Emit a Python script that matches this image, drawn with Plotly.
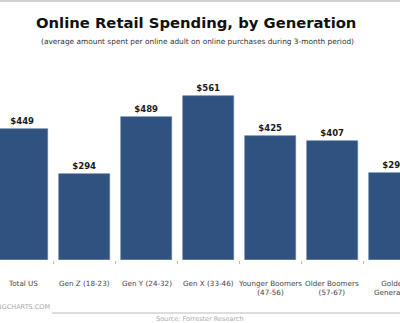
import plotly.graph_objects as go

# Spending data
categories = ["Total US", "Gen Z (18-23)", "Gen Y (24-32)", "Gen X (33-46)",
              "Younger Boomers<br>(47-56)", "Older Boomers<br>(57-67)", "Golden<br>Generation"]
spending = [449, 294, 489, 561, 425, 407, 297]
value_labels = ["$449", "$294", "$489", "$561", "$425", "$407", "$297"]

title_text = "Online Retail Spending, by Generation"
subtitle_text = "(average amount spent per online adult on online purchases during 3-month period)"
source_text = "Source: Forrester Research"
site_text = "MARKETINGCHARTS.COM"

BAR = "rgb(47,82,128)"
x_idx = list(range(len(categories)))

# plot area: full width, y from 60px (top) to 260px (bottom)
TOP, BOT, W = 60, 260, 400


def py(pixel_y):
    return (BOT - pixel_y) / (BOT - TOP)


fig = go.Figure()
fig.add_trace(go.Bar(
    x=x_idx, y=spending, width=0.82,
    marker=dict(color=BAR, line=dict(color="rgb(90,120,160)", width=0.6)),
    text=value_labels, textposition="outside", cliponaxis=False,
    textfont=dict(family="DejaVu Sans", size=8.5, color="#1a1a1a", weight="bold"),
))

# category labels under each bar
for i, c in enumerate(categories):
    fig.add_annotation(x=i, y=0, xref="x", yref="y", text=c, showarrow=False,
                       yanchor="top", yshift=-17, align="center",
                       font=dict(family="DejaVu Sans", size=7.2, color="#444"))

fig.add_annotation(x=0.49, y=py(22), xref="paper", yref="paper", yanchor="middle", xanchor="center",
                   text=f"<b>{title_text}</b>", showarrow=False,
                   font=dict(family="DejaVu Sans", size=14.8, color="#111"))
fig.add_annotation(x=0.4925, y=py(41), xref="paper", yref="paper", yanchor="middle", xanchor="center",
                   text=subtitle_text, showarrow=False,
                   font=dict(family="DejaVu Sans", size=7.4, color="#333"))
fig.add_annotation(x=52 / W, y=py(307), xref="paper", yref="paper", text=site_text, showarrow=False,
                   xanchor="right", yanchor="middle",
                   font=dict(family="DejaVu Sans", size=6.5, color="#aaa"))
fig.add_annotation(x=200 / W, y=py(318.5), xref="paper", yref="paper", text=source_text, showarrow=False,
                   xanchor="center", yanchor="middle",
                   font=dict(family="DejaVu Sans", size=6.5, color="#aaa"))

fig.update_layout(
    width=400, height=323,
    margin=dict(l=0, r=0, t=TOP, b=323 - BOT),
    paper_bgcolor="white", plot_bgcolor="white",
    showlegend=False, bargap=0,
    xaxis=dict(range=[-0.363, 6.089], showgrid=False, zeroline=False, showline=False,
               tickvals=[i + 0.5 for i in x_idx[:-1]], ticktext=[""] * (len(x_idx) - 1),
               ticks="outside", ticklen=3, tickcolor="#c8b8a0", fixedrange=True),
    yaxis=dict(range=[0, 684], visible=False, fixedrange=True),
    shapes=[
        dict(type="line", xref="paper", yref="paper", x0=0, x1=1, y0=py(1), y1=py(1),
             line=dict(color="#d0d0d0", width=2)),
        dict(type="line", xref="paper", yref="paper", x0=52 / W, x1=1,
             y0=py(313), y1=py(313), line=dict(color="#bbbbbb", width=1.2)),
    ],
)

fig.write_html("out.html")
